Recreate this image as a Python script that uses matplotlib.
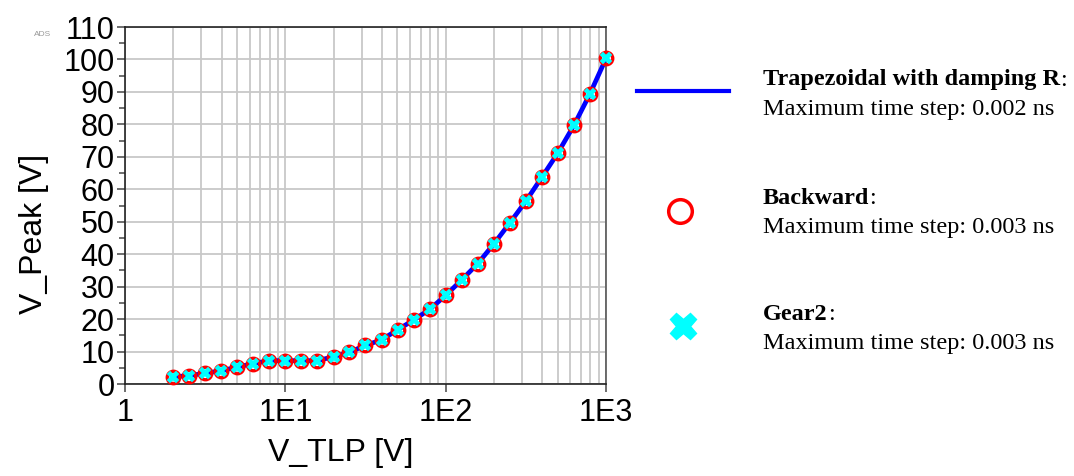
import numpy as np
import matplotlib
matplotlib.use("Agg")
import matplotlib.pyplot as plt
from matplotlib.ticker import FixedLocator, NullFormatter

# V_TLP sweep and simulated peak voltage (all three integration methods overlap)
v_tlp = [2.0, 2.51, 3.16, 3.98, 5.01, 6.31, 7.94, 10.0, 12.6, 15.8, 20.0, 25.1, 31.6, 39.8,
         50.1, 63.1, 79.4, 100.0, 126.0, 158.0, 200.0, 251.0, 316.0, 398.0, 501.0, 631.0,
         794.0, 1000.0]
v_peak_trap = [2.2, 2.6, 3.3, 4.1, 5.2, 6.3, 7.2, 7.2, 7.2, 7.2, 8.4, 9.8, 11.9, 13.6,
               16.7, 19.7, 23.0, 27.3, 32.1, 37.0, 43.2, 49.6, 56.3, 63.7, 71.2, 79.7,
               89.4, 100.3]
v_peak_backward = list(v_peak_trap)
v_peak_gear2 = list(v_peak_trap)

x_ticks = [1, 10, 100, 1000]
x_tick_labels = ["1", "1E1", "1E2", "1E3"]
y_ticks = list(range(0, 111, 10))

plt.rcParams['font.family'] = ['Liberation Sans', 'DejaVu Sans']

fig = plt.figure(figsize=(10.74, 4.76), dpi=100)
ax = fig.add_axes([125 / 1074, 1 - 384 / 476, 481 / 1074, 357 / 476])

ax.plot(v_tlp, v_peak_trap, color='#0000ff', lw=3.4, zorder=3)
ax.plot(v_tlp, v_peak_backward, ls='none', marker='o', ms=9, mfc='none',
        mec='#ff0000', mew=2.4, zorder=4, clip_on=False)
ax.plot(v_tlp, v_peak_gear2, ls='none', marker='X', ms=9, mfc='#00ffff',
        mec='#00ffff', mew=0.3, zorder=5, clip_on=False)

ax.set_xscale('log')
ax.set_xlim(1, 1000)
ax.set_ylim(0, 110)
ax.xaxis.set_major_locator(FixedLocator(x_ticks))
ax.set_xticklabels(x_tick_labels)
ax.xaxis.set_minor_locator(FixedLocator([m * d for d in (1, 10, 100) for m in range(2, 10)]))
ax.xaxis.set_minor_formatter(NullFormatter())
ax.set_yticks(y_ticks)
ax.yaxis.set_minor_locator(FixedLocator(list(range(5, 110, 10))))

ax.grid(True, which='major', color='#c8c8c8', lw=1.3)
ax.grid(True, which='minor', axis='x', color='#c8c8c8', lw=1.3)
ax.set_axisbelow(True)

ax.tick_params(axis='both', which='major', labelsize=22, length=6, width=1.2,
               color='#555555', direction='out')
ax.tick_params(axis='y', which='major', pad=1.5)
ax.tick_params(axis='x', which='major', pad=4)
ax.tick_params(axis='y', which='minor', length=4, width=1.2, color='#555555')
ax.tick_params(axis='x', which='minor', length=0)
for side in ('left', 'bottom', 'top'):
    ax.spines[side].set_color('#222222')
    ax.spines[side].set_linewidth(1.2)
ax.spines['right'].set_color('#555555')
ax.spines['right'].set_linewidth(1.2)

ax.set_xlabel('V_TLP [V]', fontsize=23)
ax.set_ylabel('V_Peak [V]', fontsize=23)
ax.xaxis.set_label_coords(0.449, -0.152)
ax.yaxis.set_label_coords(-0.158, 0.42)

fig.text(43 / 1074, 1 - 34 / 476, 'ADS', fontsize=6, color='#999999',
         ha='center', va='center')

# legend panel on the right, laid out in pixel coordinates
lg = fig.add_axes([0, 0, 1, 1])
lg.set_xlim(0, 1074)
lg.set_ylim(476, 0)
lg.axis('off')

lg.plot([637, 729], [91, 91], color='#0000ff', lw=3)
lg.plot([680], [211], ls='none', marker='o', ms=17, mfc='none', mec='#ff0000', mew=2.5)
lg.plot([683], [326], ls='none', marker='X', ms=19, mfc='#00ffff', mec='#00ffff')

serif = ['Liberation Serif', 'DejaVu Serif']
entries = [("Trapezoidal with damping R", "Maximum time step: 0.002 ns", 80),
           ("Backward", "Maximum time step: 0.003 ns", 198),
           ("Gear2", "Maximum time step: 0.003 ns", 315)]
for name, step, y in entries:
    t = lg.text(763, y, name, family=serif, fontweight='bold', fontsize=17.5,
                va='center', ha='left')
    lg.annotate(":", xy=(1, 0.5), xycoords=t, va='center', ha='left',
                family=serif, fontsize=17.5)
    lg.text(763, y + 29, step, family=serif, fontsize=17.5, va='center', ha='left')

fig.savefig('out.png', dpi=100)
